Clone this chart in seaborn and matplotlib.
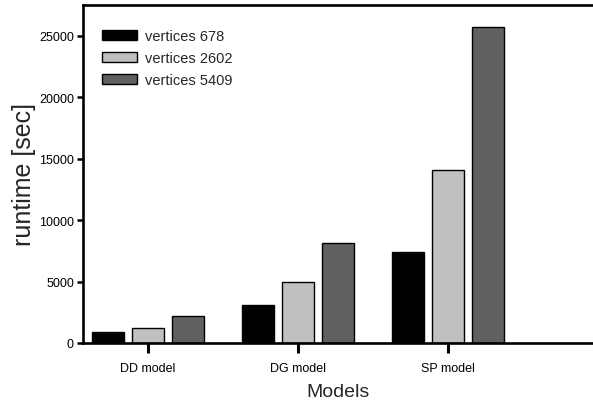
import pandas as pd
import matplotlib
matplotlib.use("Agg")
import matplotlib.pyplot as plt
import seaborn as sns

# values
models = ['DD model', 'DG model', 'SP model']
series = ['vertices 678', 'vertices 2602', 'vertices 5409']
runtime_678 = [880, 3090, 7390]
runtime_2602 = [1230, 4950, 14100]
runtime_5409 = [2180, 8150, 25750]
colors = ['#000000', '#c0c0c0', '#606060']

rows = []
for name, vals in zip(series, [runtime_678, runtime_2602, runtime_5409]):
    for m, v in zip(models, vals):
        rows.append({'model': m, 'series': name, 'runtime': v})
df = pd.DataFrame(rows)

sns.set_theme(style='ticks')
plt.rcParams['font.family'] = ['Liberation Sans', 'DejaVu Sans']

fig = plt.figure(figsize=(5.93, 4.10), dpi=100)
ax = fig.add_axes([83 / 593, 66 / 410, 510 / 593, 338 / 410])

sns.barplot(data=df, x='model', y='runtime', hue='series', hue_order=series,
            palette=colors, edgecolor='black', linewidth=1.0,
            width=0.8, gap=0.2, ax=ax)

ax.set_xlim(-0.433, 2.967)
ax.set_ylim(0, 27500)
ax.set_yticks([0, 5000, 10000, 15000, 20000, 25000])
ax.set_xlabel('Models', fontsize=14, labelpad=6)
ax.set_ylabel('runtime [sec]', fontsize=18, labelpad=2)

for side in ['left', 'bottom', 'top']:
    ax.spines[side].set_linewidth(1.9)
    ax.spines[side].set_color('black')
ax.spines['right'].set_visible(False)
ax.tick_params(axis='y', left=True, length=4.5, width=1.8, labelsize=9, pad=2,
               color='black', labelcolor='black')
ax.tick_params(axis='x', bottom=True, direction='out', length=7, width=2.2,
               labelsize=9, pad=7, color='black', labelcolor='black')

ax.legend(loc='upper left', bbox_to_anchor=(19 / 510, 1 - 24 / 338),
          frameon=False, fontsize=10.5, handlelength=2.4, handleheight=0.75,
          handletextpad=0.55, labelspacing=0.55, borderpad=0, borderaxespad=0)

fig.savefig('out.png', dpi=100)
